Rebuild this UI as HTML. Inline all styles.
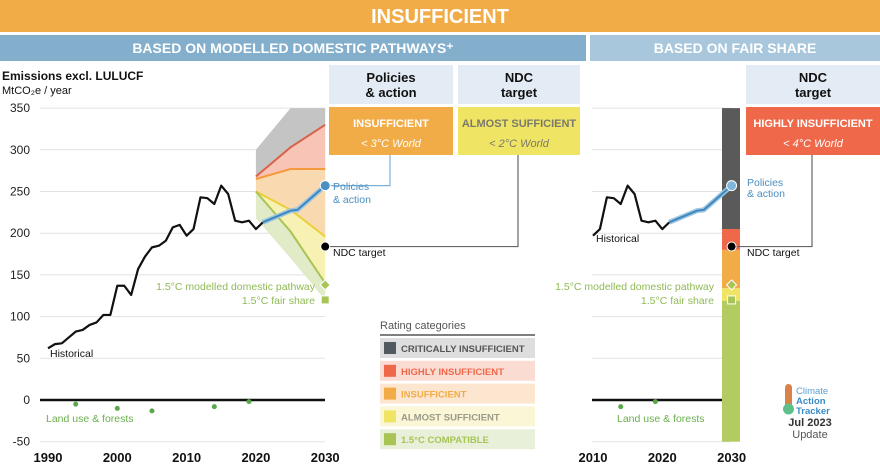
<!DOCTYPE html>
<html><head><meta charset="utf-8"><style>
body{margin:0;width:880px;height:466px;overflow:hidden;background:#fff;font-family:"Liberation Sans",sans-serif}
svg text{font-family:"Liberation Sans",sans-serif}
</style></head><body>
<svg id="c" width="880" height="466" viewBox="0 0 880 466" xmlns="http://www.w3.org/2000/svg">
<rect x="0" y="0" width="880" height="32" fill="#f2ac47"/>
<text x="440" y="23" text-anchor="middle" fill="#fff" font-size="20" font-weight="bold">INSUFFICIENT</text>
<rect x="0" y="35" width="586" height="26" fill="#84afcc"/>
<text x="293" y="53" text-anchor="middle" fill="#fff" font-size="14" font-weight="bold">BASED ON MODELLED DOMESTIC PATHWAYS⁺</text>
<rect x="590" y="35" width="290" height="26" fill="#a8c7dc"/>
<text x="735" y="53" text-anchor="middle" fill="#fff" font-size="14" font-weight="bold">BASED ON FAIR SHARE</text>

<rect x="329" y="65" width="124" height="39" fill="#e3ecf5"/>
<text x="391" y="82" text-anchor="middle" font-size="13" font-weight="bold" fill="#111">Policies</text>
<text x="391" y="97" text-anchor="middle" font-size="13" font-weight="bold" fill="#111">&amp; action</text>
<rect x="458" y="65" width="122" height="39" fill="#e3ecf5"/>
<text x="519" y="82" text-anchor="middle" font-size="13" font-weight="bold" fill="#111">NDC</text>
<text x="519" y="97" text-anchor="middle" font-size="13" font-weight="bold" fill="#111">target</text>
<rect x="746" y="65" width="134" height="39" fill="#e3ecf5"/>
<text x="813" y="82" text-anchor="middle" font-size="13" font-weight="bold" fill="#111">NDC</text>
<text x="813" y="97" text-anchor="middle" font-size="13" font-weight="bold" fill="#111">target</text>

<rect x="329" y="107" width="124" height="48" fill="#f2ac47"/>
<text x="391" y="127" text-anchor="middle" font-size="11" font-weight="bold" fill="#fff">INSUFFICIENT</text>
<text x="391" y="147" text-anchor="middle" font-size="11" font-style="italic" fill="#fff">&lt; 3°C World</text>
<rect x="458" y="107" width="122" height="48" fill="#f0e464"/>
<text x="519" y="127" text-anchor="middle" font-size="11" font-weight="bold" fill="#7a7a6a">ALMOST SUFFICIENT</text>
<text x="519" y="147" text-anchor="middle" font-size="11" font-style="italic" fill="#7a7a6a">&lt; 2°C World</text>
<rect x="746" y="107" width="134" height="48" fill="#ef684a"/>
<text x="813" y="127" text-anchor="middle" font-size="11" font-weight="bold" fill="#fff">HIGHLY INSUFFICIENT</text>
<text x="813" y="147" text-anchor="middle" font-size="11" font-style="italic" fill="#fff">&lt; 4°C World</text>

<text x="2" y="80" font-size="12" font-weight="bold" fill="#111">Emissions excl. LULUCF</text>
<text x="2" y="94" font-size="11" fill="#111">MtCO₂e / year</text>

<g id="g"></g>

<text x="380" y="329" font-size="11" fill="#555">Rating categories</text>
<line x1="380" y1="335" x2="535" y2="335" stroke="#555" stroke-width="1.5"/>
<g id="leg"></g>

<g>
<rect x="785" y="384" width="7" height="24" rx="3.5" fill="#d9834a"/>
<circle cx="788.5" cy="409" r="5.5" fill="#5fbf8a"/>
<text x="796" y="394" font-size="9.5" fill="#5aa0d0">Climate</text>
<text x="796" y="404" font-size="9.5" font-weight="bold" fill="#3a8cc8">Action</text>
<text x="796" y="414" font-size="9.5" font-weight="bold" fill="#3a8cc8">Tracker</text>
<text x="810" y="426" text-anchor="middle" font-size="11" font-weight="bold" fill="#333">Jul 2023</text>
<text x="810" y="438" text-anchor="middle" font-size="11" fill="#555">Update</text>
</g>
</svg>
<script>
const histYears=[1990,1991,1992,1993,1994,1995,1996,1997,1998,1999,2000,2001,2002,2003,2004,2005,2006,2007,2008,2009,2010,2011,2012,2013,2014,2015,2016,2017,2018,2019,2020,2021];
const histValues=[62,67,68,75,82,84,90,93,102,102,137,137,126,157,172,183,185,191,207,210,197,205,243,242,235,257,247,215,213,215,205,213];
const projYears=[2020,2025,2030];
const greyTop=[300,350,350];
const ciHiLine=[268,303,330];
const hiInsLine=[265,277,277];
const insAsLine=[250,228,196];
const as15Line=[250,202,140];
const green15Bottom=[218,170,120];
const policyYears=[2021,2025,2026,2030];
const policyValues=[213,227,228,257];
const ndcTarget=184;
const pathway15=138;
const fairShare15=120;
const lulucfYears=[1994,2000,2005,2014,2019];
const lulucfValues=[-5,-10,-13,-8,-2];
const fsBarBounds=[350,205,180,134,119,-50];
const fsBarColors=["#5a5a5a","#ef684a","#f2ac47","#f0e464","#b3cc62"];
const yTicks=[350,300,250,200,150,100,50,0,-50];
const xTicksLeft=[1990,2000,2010,2020,2030];
const xTicksRight=[2010,2020,2030];
const legendLabels=["CRITICALLY INSUFFICIENT","HIGHLY INSUFFICIENT","INSUFFICIENT","ALMOST SUFFICIENT","1.5°C COMPATIBLE"];

const NS="http://www.w3.org/2000/svg";
const g=document.getElementById('g');
const y=v=>400-v*0.834;
const xL=t=>48+(t-1990)*6.93;
const xR=t=>593+(t-2010)*6.93;
function mk(tag,at,parent){const e=document.createElementNS(NS,tag);for(const k in at)e.setAttribute(k,at[k]);(parent||g).appendChild(e);return e;}
function txt(x,yy,s,at){const e=mk('text',Object.assign({x:x,y:yy},at));e.textContent=s;return e;}
const pts=(xs,vs,xf)=>xs.map((t,i)=>xf(t)+','+y(vs[i])).join(' ');

// grid
yTicks.forEach(v=>{
 if(v!==0){
 const l=mk('line',{x1:40,x2:325,y1:y(v),y2:y(v),stroke:'#e2e2e2','stroke-width':1});
 
 
 const l2=mk('line',{x1:592,x2:731,y1:y(v),y2:y(v),stroke:'#e2e2e2','stroke-width':1});
 
 
 }
 const t=txt(30,y(v)+4,String(v),{'text-anchor':'end','font-size':12,fill:'#222'});
 
 
});
xTicksLeft.forEach(v=>{const t=txt(xL(v),462,String(v),{'text-anchor':'middle','font-size':13,'font-weight':'bold',fill:'#111'});
 
 });
xTicksRight.forEach(v=>{const t=txt(xR(v),462,String(v),{'text-anchor':'middle','font-size':13,'font-weight':'bold',fill:'#111'});
 
 });

// bands
function band(top,bot,fill,name){
 const p=mk('polygon',{points:pts(projYears,top,xL)+' '+pts(projYears.slice().reverse(),bot.slice().reverse(),xL),fill:fill});
 
 
}
band(greyTop,ciHiLine,'#c4c4c4','band-critically-insufficient');
band(ciHiLine,hiInsLine,'#f7c4b6','band-highly-insufficient');
band(hiInsLine,insAsLine,'#f9d9b0','band-insufficient');
band(insAsLine,as15Line,'#f8f1b4','band-almost-sufficient');
band(as15Line,green15Bottom,'#e1ebc8','band-15-compatible');
[[ciHiLine,'#d9634a'],[hiInsLine,'#f59a3c'],[insAsLine,'#eccf3a'],[as15Line,'#a8c455']].forEach(([d,c],i)=>{
 const l=mk('polyline',{points:pts(projYears,d,xL),fill:'none',stroke:c,'stroke-width':2});
 
 
});

// zero lines
let z=mk('line',{x1:40,x2:325,y1:y(0),y2:y(0),stroke:'#111','stroke-width':2.5});


z=mk('line',{x1:592,x2:731,y1:y(0),y2:y(0),stroke:'#111','stroke-width':2.5});



// right bar
for(let i=0;i<fsBarColors.length;i++){
 const r=mk('rect',{x:722,width:18,y:y(fsBarBounds[i]),height:y(fsBarBounds[i+1])-y(fsBarBounds[i]),fill:fsBarColors[i]});
 
 
}

// historical
let h=mk('polyline',{points:pts(histYears,histValues,xL),fill:'none',stroke:'#111','stroke-width':2.2,'stroke-linejoin':'round'});


const hy=histYears.filter(t=>t>=2010), hv=histValues.slice(histYears.indexOf(2010));
h=mk('polyline',{points:pts(hy,hv,xR),fill:'none',stroke:'#111','stroke-width':2.2,'stroke-linejoin':'round'});



// policies
[[xL,'policies-line'],[xR,'policies-line-right']].forEach(([xf,n])=>{
 const w=mk('polyline',{points:pts(policyYears,policyValues,xf),fill:'none',stroke:'#9cc6e2','stroke-width':5});
 
 
 const l=mk('polyline',{points:pts(policyYears,policyValues,xf),fill:'none',stroke:'#3d86be','stroke-width':2});
 
 
});

// connectors
const pv=policyValues[policyValues.length-1];
let c=mk('polyline',{points:`${xL(2030)},${y(pv)} 390,${y(pv)} 390,155`,fill:'none',stroke:'#7fb2d6','stroke-width':1.2});


c=mk('polyline',{points:`${xL(2030)},${y(ndcTarget)} 518,${y(ndcTarget)} 518,155`,fill:'none',stroke:'#666','stroke-width':1.2});


c=mk('polyline',{points:`${xR(2030)},${y(ndcTarget)} 812,${y(ndcTarget)} 812,155`,fill:'none',stroke:'#666','stroke-width':1.2});



// markers
[xL,xR].forEach((xf,i)=>{
 const x0=xf(2030);
 let m=mk('circle',{cx:x0,cy:y(pv),r:5,fill:i?'#7fb6dc':'#4a90c4',stroke:'#fff','stroke-width':1});
 
 
 m=mk('circle',{cx:x0,cy:y(ndcTarget),r:4.5,fill:'#000',stroke:'#fff','stroke-width':1});
 
 
 const yd=y(pathway15);
 m=mk('polygon',{points:`${x0},${yd-5} ${x0+5},${yd} ${x0},${yd+5} ${x0-5},${yd}`,fill:'#a8c455',stroke:'#fff','stroke-width':1});
 
 
 const ys=y(fairShare15);
 m=mk('rect',{x:x0-4,y:ys-4,width:8,height:8,fill:'#a8c455',stroke:'#fff','stroke-width':1});
 
 
});

// lulucf
[[lulucfYears,lulucfValues,xL],[lulucfYears.filter(t=>t>=2010),lulucfValues.filter((v,i)=>lulucfYears[i]>=2010),xR]].forEach(([ys,vs,xf])=>{
 ys.forEach((t,i)=>{const d=mk('circle',{cx:xf(t),cy:y(vs[i]),r:2.5,fill:'#5aa84a'});
 
 });
});

// labels
const L=[
 [50,357,'Historical','#111','start','historical-label'],
 [596,242,'Historical','#111','start','historical-label-right'],
 [46,422,'Land use & forests','#6ab04c','start','lulucf-label'],
 [617,422,'Land use & forests','#6ab04c','start','lulucf-label-right'],
 [333,190,'Policies','#4a8ec0','start','policies-label'],
 [333,203,'& action','#4a8ec0','start','policies-label-2'],
 [747,186,'Policies','#4a8ec0','start','policies-label-right'],
 [747,197,'& action','#4a8ec0','start','policies-label-right-2'],
 [333,256,'NDC target','#111','start','ndc-label'],
 [747,256,'NDC target','#111','start','ndc-label-right'],
 [315,290,'1.5°C modelled domestic pathway','#8fba55','end','pathway-15-label'],
 [315,304,'1.5°C fair share','#8fba55','end','fair-share-label'],
 [714,290,'1.5°C modelled domestic pathway','#8fba55','end','pathway-15-label-right'],
 [714,304,'1.5°C fair share','#8fba55','end','fair-share-label-right']];
L.forEach(a=>{const t=txt(a[0],a[1],a[2],{'font-size':10.5,fill:a[3],'text-anchor':a[4]});
 
 });

// legend
const lg=document.getElementById('leg');
const legBg=['#dedede','#fbdcd3','#fce6cf','#fbf6d6','#e9f0da'];
const legSw=['#505a5f','#ef684a','#f2ac47','#f0e464','#a8c455'];
const legTx=['#555','#ef684a','#f2ac47','#9a9a8a','#a8c455'];
legendLabels.forEach((s,i)=>{
 const yy=338+i*22.8;
 const r=mk('rect',{x:380,y:yy,width:155,height:20,fill:legBg[i]},lg);
 
 
 mk('rect',{x:384,y:yy+4,width:12,height:12,fill:legSw[i]},lg);
 const t=mk('text',{x:401,y:yy+14,'font-size':9.5,'font-weight':'bold',fill:legTx[i]},lg);
 t.textContent=s;
 
 
});
</script>
</body></html>
